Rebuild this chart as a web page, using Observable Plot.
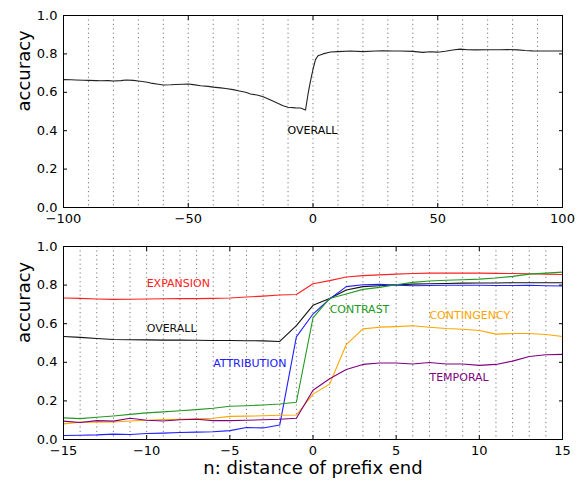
<!DOCTYPE html>
<html>
<head>
<meta charset="utf-8">
<script src="https://cdn.jsdelivr.net/npm/d3@7"></script>
<script src="https://cdn.jsdelivr.net/npm/@observablehq/plot@0.6"></script>
<style>
  html, body { margin: 0; padding: 0; background: #fff; }
  #chart svg { display: block; }
</style>
</head>
<body>
<div id="chart"></div>
<script>
// ---- Top panel: overall accuracy vs distance (-100..100)
const topX = [-100, -97, -95, -92, -90, -87, -85, -82, -80, -77, -75, -72, -70, -67, -65, -62, -60, -57, -55, -52, -50, -48, -45, -42, -40, -37, -35, -32, -30, -27, -25, -22, -20, -17, -15, -12, -10, -7, -5, -3, -2, -1, 0, 1, 2, 4, 7, 10, 15, 20, 25, 28, 32, 35, 40, 44, 47, 50, 53, 56, 59, 62, 65, 70, 75, 78, 82, 85, 88, 92, 95, 100];
const topY = [0.666, 0.665, 0.664, 0.663, 0.662, 0.661, 0.660, 0.661, 0.659, 0.661, 0.664, 0.662, 0.659, 0.654, 0.648, 0.642, 0.638, 0.639, 0.641, 0.642, 0.643, 0.640, 0.634, 0.631, 0.627, 0.623, 0.620, 0.614, 0.608, 0.600, 0.591, 0.585, 0.577, 0.560, 0.548, 0.530, 0.522, 0.519, 0.518, 0.508, 0.590, 0.660, 0.720, 0.770, 0.790, 0.800, 0.810, 0.812, 0.815, 0.812, 0.815, 0.816, 0.815, 0.815, 0.813, 0.808, 0.811, 0.809, 0.814, 0.820, 0.825, 0.822, 0.821, 0.822, 0.822, 0.823, 0.821, 0.818, 0.816, 0.815, 0.815, 0.815];
const topTicks = [-100, -50, 0, 50, 100];
const topGrid = [-90, -80, -70, -60, -50, -40, -30, -20, -10, 0, 10, 20, 30, 40, 50, 60, 70, 80, 90];
const yTicks = [0, 0.2, 0.4, 0.6, 0.8, 1.0];

// ---- Bottom panel: per-relation accuracy vs distance (-15..15)
const n = [-15, -14, -13, -12, -11, -10, -9, -8, -7, -6, -5, -4, -3, -2, -1, 0, 1, 2, 3, 4, 5, 6, 7, 8, 9, 10, 11, 12, 13, 14, 15];
const expansion = [0.733, 0.731, 0.728, 0.726, 0.727, 0.728, 0.729, 0.730, 0.730, 0.731, 0.733, 0.738, 0.743, 0.749, 0.751, 0.807, 0.823, 0.842, 0.849, 0.853, 0.857, 0.860, 0.862, 0.862, 0.862, 0.862, 0.861, 0.860, 0.859, 0.857, 0.855];
const overall = [0.534, 0.529, 0.523, 0.518, 0.517, 0.516, 0.515, 0.515, 0.514, 0.513, 0.513, 0.512, 0.511, 0.508, 0.590, 0.695, 0.731, 0.775, 0.792, 0.797, 0.802, 0.805, 0.807, 0.808, 0.810, 0.811, 0.811, 0.812, 0.812, 0.812, 0.812];
const attribution = [0.021, 0.022, 0.024, 0.028, 0.026, 0.031, 0.033, 0.036, 0.038, 0.040, 0.046, 0.062, 0.060, 0.075, 0.532, 0.650, 0.728, 0.792, 0.802, 0.804, 0.800, 0.797, 0.798, 0.799, 0.799, 0.799, 0.798, 0.798, 0.799, 0.797, 0.795];
const contrast = [0.112, 0.108, 0.115, 0.122, 0.130, 0.138, 0.143, 0.149, 0.155, 0.162, 0.172, 0.175, 0.179, 0.184, 0.193, 0.630, 0.731, 0.754, 0.778, 0.788, 0.802, 0.814, 0.821, 0.825, 0.828, 0.831, 0.837, 0.845, 0.857, 0.862, 0.867];
const contingency = [0.081, 0.090, 0.090, 0.091, 0.096, 0.100, 0.103, 0.105, 0.107, 0.110, 0.120, 0.121, 0.123, 0.126, 0.127, 0.235, 0.287, 0.492, 0.573, 0.582, 0.585, 0.589, 0.582, 0.575, 0.571, 0.565, 0.546, 0.549, 0.549, 0.544, 0.534];
const temporal = [0.095, 0.088, 0.098, 0.095, 0.110, 0.100, 0.096, 0.102, 0.105, 0.098, 0.098, 0.100, 0.102, 0.105, 0.110, 0.255, 0.315, 0.363, 0.389, 0.396, 0.396, 0.391, 0.399, 0.391, 0.391, 0.384, 0.389, 0.406, 0.430, 0.439, 0.441];
const bottomTicks = [-15, -10, -5, 0, 5, 10, 15];
const bottomGrid = [-14, -13, -12, -11, -10, -9, -8, -7, -6, -5, -4, -3, -2, -1, 0, 1, 2, 3, 4, 5, 6, 7, 8, 9, 10, 11, 12, 13, 14];

const seriesNames = ["EXPANSION", "OVERALL", "ATTRIBUTION", "CONTRAST", "CONTINGENCY", "TEMPORAL"];
const seriesValues = [expansion, overall, attribution, contrast, contingency, temporal];
const seriesColors = ["#ff2020", "#111111", "#2020ff", "#229922", "#ffa500", "#800080"];
// label anchors (data coordinates, left-aligned)
const labelX = [-10, -10, -6, 1, 7, 7];
const labelY = [0.807, 0.574, 0.394, 0.676, 0.642, 0.322];
const topLabel = {name: "OVERALL", x: -10.2, y: 0.40};

const fmtX = d3.format("d");
const fmtY = d3.format(".1f");
const font = "DejaVu Sans, Bitstream Vera Sans, sans-serif";

const topData = topX.map((x, i) => ({x, y: topY[i]}));
const bottomData = seriesNames.flatMap((name, s) =>
  n.map((x, i) => ({name, x, y: seriesValues[s][i]})));
const labels = seriesNames.map((name, i) => ({name, x: labelX[i], y: labelY[i], color: seriesColors[i]}));

function frameMarks(xTicks, gridVals) {
  return [
    Plot.ruleX(gridVals, {x: d => d, stroke: "#777", strokeWidth: 1, strokeDasharray: "1.2,3.2"}),
    Plot.axisX({ticks: xTicks, tickSize: 0, tickPadding: 6, tickFormat: fmtX, fontSize: 13, label: null}),
    Plot.axisX({ticks: xTicks, tickSize: -4, text: null, label: null, stroke: "#000"}),
    Plot.axisX({anchor: "top", ticks: xTicks, tickSize: -4, text: null, label: null, stroke: "#000"}),
    Plot.axisY({ticks: yTicks, tickSize: 0, tickPadding: 6, tickFormat: fmtY, fontSize: 13, label: null}),
    Plot.axisY({ticks: yTicks, tickSize: -4, text: null, label: null, stroke: "#000"}),
    Plot.axisY({anchor: "right", ticks: yTicks, tickSize: -4, text: null, label: null, stroke: "#000"}),
    Plot.text(["accuracy"], {frameAnchor: "left", rotate: -90, dx: -39, fontSize: 18, fill: "#000"})
  ];
}

const topChart = Plot.plot({
  width: 579, height: 231,
  marginLeft: 63, marginRight: 17, marginTop: 15, marginBottom: 24,
  style: {fontFamily: font, color: "#000", background: "#fff"},
  x: {domain: [-100, 100]},
  y: {domain: [0, 1]},
  marks: [
    ...frameMarks(topTicks, topGrid),
    Plot.line(topData, {x: "x", y: "y", stroke: "#222", strokeWidth: 1.1}),
    Plot.text([topLabel], {x: "x", y: "y", text: "name", textAnchor: "start", fontSize: 11, fill: "#000"}),
    Plot.frame({stroke: "#000", strokeWidth: 1})
  ]
});

const bottomChart = Plot.plot({
  width: 579, height: 256,
  marginLeft: 63, marginRight: 17, marginTop: 15, marginBottom: 48,
  style: {fontFamily: font, color: "#000", background: "#fff"},
  x: {domain: [-15, 15]},
  y: {domain: [0, 1]},
  color: {domain: seriesNames, range: seriesColors},
  marks: [
    ...frameMarks(bottomTicks, bottomGrid),
    Plot.line(bottomData, {x: "x", y: "y", z: "name", stroke: "name", strokeWidth: 1.1}),
    Plot.text(labels, {x: "x", y: "y", text: "name", fill: "color", textAnchor: "start", fontSize: 11}),
    Plot.text(["n: distance of prefix end"], {frameAnchor: "bottom", dy: 34, fontSize: 18, fill: "#000"}),
    Plot.frame({stroke: "#000", strokeWidth: 1})
  ]
});

const chart = document.getElementById("chart");
chart.appendChild(topChart);
chart.appendChild(bottomChart);
</script>
</body>
</html>
